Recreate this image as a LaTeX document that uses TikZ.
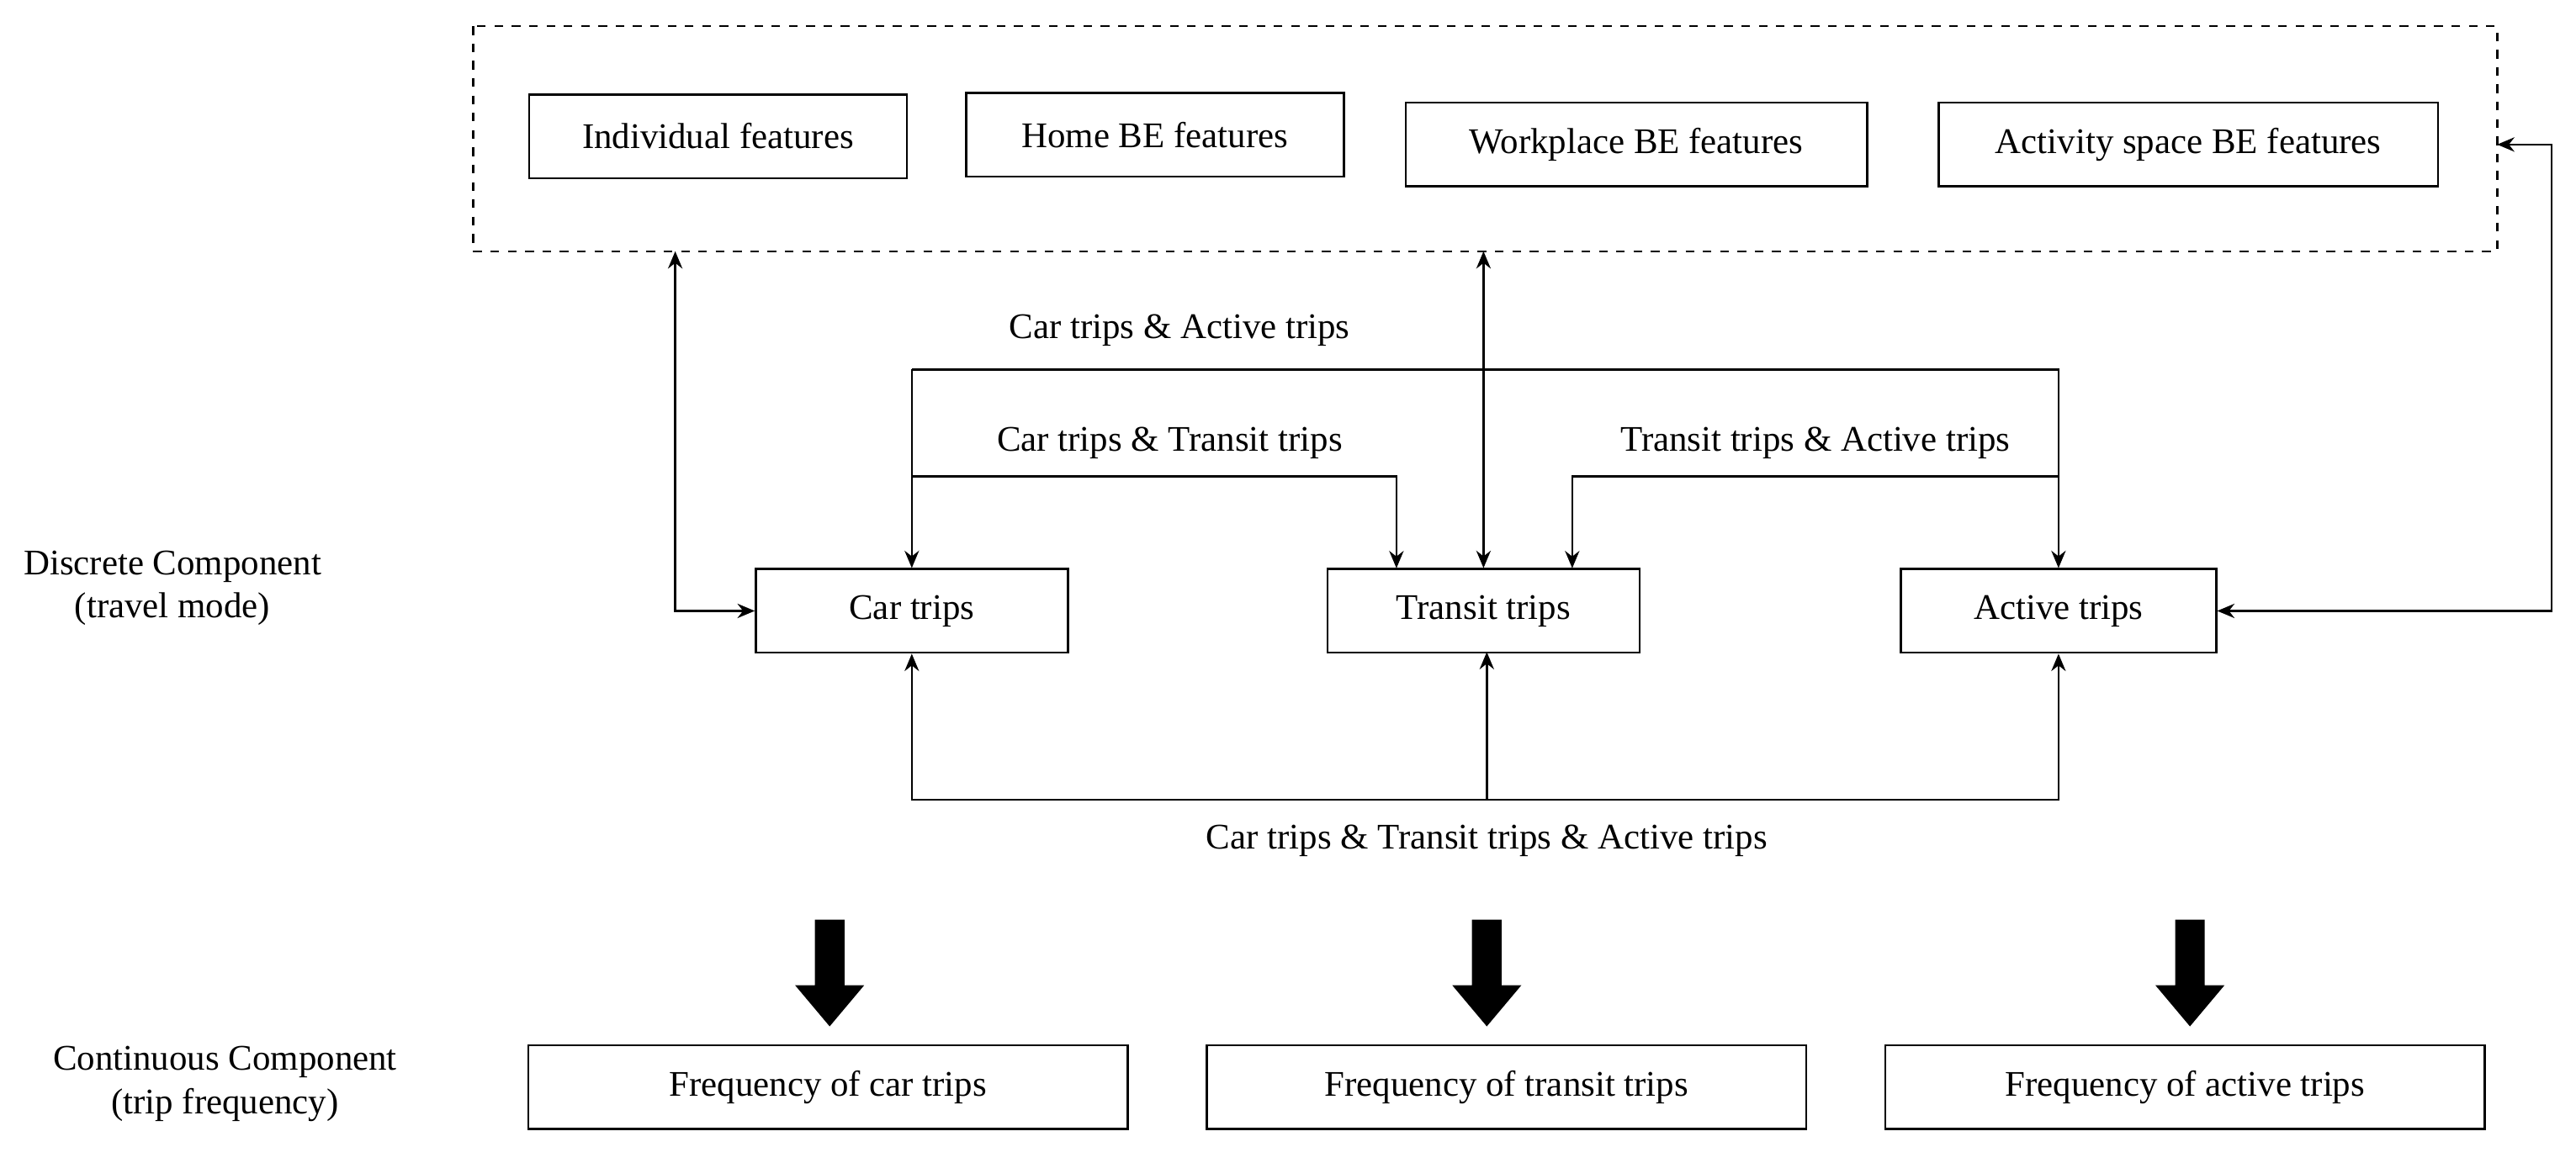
\documentclass[tikz,border=0pt]{standalone}
\usepackage{fontspec}
\setmainfont{Liberation Serif}
\usetikzlibrary{arrows.meta,positioning}
\begin{document}
\begin{tikzpicture}[x=0.02cm,y=-0.02cm,font=\fontsize{12.5}{15}\selectfont]
	\tikzset{box/.style={draw,line width=0.7pt,minimum height=1.02cm,inner sep=0pt},
		link/.style={line width=0.7pt,-{Stealth[length=6pt,width=5pt]}},
		both/.style={line width=0.7pt,{Stealth[length=6pt,width=5pt]}-{Stealth[length=6pt,width=5pt]}}}
	\useasboundingbox (0,0) rectangle (1568,708);
	% feature boxes
	\draw [dashed,line width=0.7pt] (288,16) rectangle (1520,153);
	\node [box,minimum width=4.6cm] (indiv) at (437,83) {Individual features};
	\node [box,minimum width=4.6cm] (home) at (703,82) {Home BE features};
	\node [box,minimum width=5.62cm] (work) at (996,88) {Workplace BE features};
	\node [box,minimum width=6.08cm] (actsp) at (1332,88) {Activity space BE features};
	% travel modes
	\node [box,minimum width=3.8cm] (car) at (555,372) {Car trips};
	\node [box,minimum width=3.8cm] (transit) at (903,372) {Transit trips};
	\node [box,minimum width=3.84cm] (active) at (1253,372) {Active trips};
	\node [align=center] (discrete) at (105,358) {Discrete Component\\(travel mode)};
	% frequencies
	\node [box,minimum width=7.3cm] (fcar) at (504,662) {Frequency of car trips};
	\node [box,minimum width=7.3cm] (ftransit) at (917,662) {Frequency of transit trips};
	\node [box,minimum width=7.3cm] (factive) at (1330,662) {Frequency of active trips};
	\node [align=center] (continuous) at (137,660) {Continuous Component\\(trip frequency)};
	% links to features
	\coordinate (fl) at (411,153);
	\coordinate (fm) at (903,153);
	\coordinate (fr) at (1520,88);
	\draw [both] (fl) |- (car.west);
	\draw [both] (fm) -- (transit.north);
	\draw [both] (fr) -| (1553,372) -- (active.east);
	% pairwise links
	\coordinate (ca) at (555,225);
	\coordinate (ct) at (555,290);
	\coordinate (ta) at (1253,290);
	\draw [link] (ca) -- (car.north);
	\draw [link] (ca) -| (active.north);
	\draw [link] (ct) -| (850,346);
	\draw [link] (ta) -| (957,346);
	\node at (718,201) {Car trips \& Active trips};
	\node at (712,270) {Car trips \& Transit trips};
	\node at (1105,270) {Transit trips \& Active trips};
	% joint link
	\coordinate (cta) at (905,487);
	\draw [link] (cta) -| (car.south);
	\draw [link] (cta) -| (active.south);
	\draw [link] (cta) -- (905,397);
	\node at (905,512) {Car trips \& Transit trips \& Active trips};
	% big arrows
	\foreach \x in {505,905,1333}
		\fill (\x-9,560) -- (\x+9,560) -- (\x+9,600) -- (\x+21,600) -- (\x,625) -- (\x-21,600) -- (\x-9,600) -- cycle;
\end{tikzpicture}
\end{document}
